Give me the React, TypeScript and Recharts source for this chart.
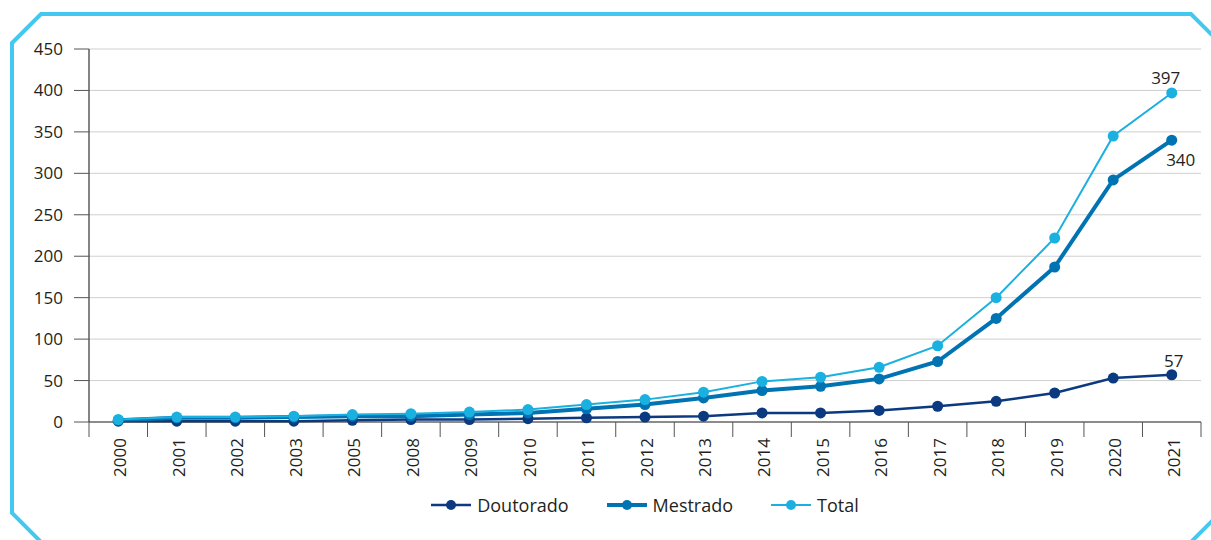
import React from 'react';
import { LineChart, Line, XAxis, YAxis, CartesianGrid, Legend, LabelList } from 'recharts';

const years = ['2000', '2001', '2002', '2003', '2005', '2008', '2009', '2010', '2011', '2012', '2013', '2014', '2015', '2016', '2017', '2018', '2019', '2020', '2021'];
const doutorado = [1, 1, 1, 1, 2, 3, 3, 4, 5, 6, 7, 11, 11, 14, 19, 25, 35, 53, 57];
const mestrado = [2, 5, 5, 6, 7, 7, 9, 11, 16, 21, 29, 38, 43, 52, 73, 125, 187, 292, 340];
const total = [3, 6, 6, 7, 9, 10, 12, 15, 21, 27, 36, 49, 54, 66, 92, 150, 222, 345, 397];
const yTicks = [0, 50, 100, 150, 200, 250, 300, 350, 400, 450];

const data = years.map((y, i) => ({ year: y, Doutorado: doutorado[i], Mestrado: mestrado[i], Total: total[i] }));

const C_DOUT = '#0b3a80';
const C_MEST = '#0073b2';
const C_TOT = '#1ab0e0';
const FONT = '"Open Sans", "Noto Sans", sans-serif';

const W = 1211;
const H = 540;
const PLOT_LEFT = 89;
const PLOT_RIGHT = 1201;
const AXIS_Y = 422;
const BAND = (PLOT_RIGHT - PLOT_LEFT) / years.length;

const XTick = (props: any) => {
  const { x, payload, index } = props;
  const isLast = index === years.length - 1;
  return (
    <g>
      <line x1={x - BAND / 2} y1={AXIS_Y} x2={x - BAND / 2} y2={AXIS_Y + 15} stroke="#555" strokeWidth={1} />
      {isLast && <line x1={x + BAND / 2} y1={AXIS_Y} x2={x + BAND / 2} y2={AXIS_Y + 15} stroke="#555" strokeWidth={1} />}
      <text
        x={0}
        y={0}
        transform={`translate(${x + 2},${AXIS_Y + 16}) rotate(-90)`}
        textAnchor="end"
        dy="0.35em"
        fontSize={17}
        fill="#231f20"
        fontFamily={FONT}
      >
        {payload.value}
      </text>
    </g>
  );
};

const makeLastLabel = (dx: number, dy: number) => (props: any) => {
  const { x, y, index, value } = props;
  if (index !== years.length - 1) return null;
  return (
    <text x={x + dx} y={y + dy} textAnchor="middle" dominantBaseline="central" fontSize={17} fill="#231f20" fontFamily={FONT}>
      {value}
    </text>
  );
};

const legendItems = [
  { label: 'Doutorado', color: C_DOUT, w: 2.5 },
  { label: 'Mestrado', color: C_MEST, w: 4 },
  { label: 'Total', color: C_TOT, w: 2 },
];

const renderLegend = () => (
  <div style={{ display: 'flex', justifyContent: 'center', alignItems: 'center', fontFamily: FONT, fontSize: 18, color: '#231f20' }}>
    {legendItems.map((it, i) => (
      <div key={it.label} style={{ display: 'flex', alignItems: 'center', marginLeft: i === 0 ? 0 : 38 }}>
        <svg width={40} height={14} style={{ display: 'block' }}>
          <line x1={0} y1={7} x2={40} y2={7} stroke={it.color} strokeWidth={it.w} />
          <circle cx={20} cy={7} r={5} fill={it.color} />
        </svg>
        <span style={{ marginLeft: 6, lineHeight: '22px' }}>{it.label}</span>
      </div>
    ))}
  </div>
);

export default function App() {
  return (
    <div style={{ position: 'absolute', left: 0, top: 0, width: W, height: H, background: '#fff', fontFamily: FONT, overflow: 'hidden' }}>
      <svg width={W} height={H} style={{ position: 'absolute', left: 0, top: 0 }}>
        <polygon
          points="12,43 41,14 1191,14 1240,63 1240,493 1180,553 52,553 12,513"
          fill="none"
          stroke="#45c8f0"
          strokeWidth={4}
        />
      </svg>
      <div style={{ position: 'absolute', left: 0, top: 0 }}>
        <LineChart width={W} height={H} data={data} margin={{ top: 49, right: 10, left: 20, bottom: 58 }}>
          <CartesianGrid vertical={false} stroke="#cfcfcf" strokeWidth={1} />
          <XAxis
            dataKey="year"
            scale="band"
            interval={0}
            height={60}
            tickLine={false}
            axisLine={{ stroke: '#333', strokeWidth: 1.2 }}
            tick={<XTick />}
          />
          <YAxis
            domain={[0, 450]}
            ticks={yTicks}
            width={69}
            tickSize={15}
            tickMargin={11}
            axisLine={{ stroke: '#333', strokeWidth: 1.2 }}
            tickLine={{ stroke: '#555' }}
            tick={{ fontSize: 17, fill: '#231f20', fontFamily: FONT }}
          />
          <YAxis
            yAxisId="right"
            orientation="right"
            domain={[0, 450]}
            width={0}
            tick={false}
            tickLine={false}
            axisLine={{ stroke: '#cfcfcf' }}
          />
          <Legend
            verticalAlign="middle"
            align="center"
            layout="horizontal"
            content={renderLegend}
            wrapperStyle={{ top: 494, left: PLOT_LEFT, width: PLOT_RIGHT - PLOT_LEFT }}
          />
          <Line
            type="linear"
            dataKey="Doutorado"
            stroke={C_DOUT}
            strokeWidth={2.5}
            dot={{ r: 5.5, fill: C_DOUT, stroke: 'none' }}
            activeDot={false}
            isAnimationActive={false}
          >
            <LabelList dataKey="Doutorado" content={makeLastLabel(2, -14)} />
          </Line>
          <Line
            type="linear"
            dataKey="Mestrado"
            stroke={C_MEST}
            strokeWidth={4}
            dot={{ r: 5.5, fill: C_MEST, stroke: 'none' }}
            activeDot={false}
            isAnimationActive={false}
          >
            <LabelList dataKey="Mestrado" content={makeLastLabel(9, 19)} />
          </Line>
          <Line
            type="linear"
            dataKey="Total"
            stroke={C_TOT}
            strokeWidth={2}
            dot={{ r: 5.5, fill: C_TOT, stroke: 'none' }}
            activeDot={false}
            isAnimationActive={false}
          >
            <LabelList dataKey="Total" content={makeLastLabel(-6, -15)} />
          </Line>
        </LineChart>
      </div>
    </div>
  );
}
